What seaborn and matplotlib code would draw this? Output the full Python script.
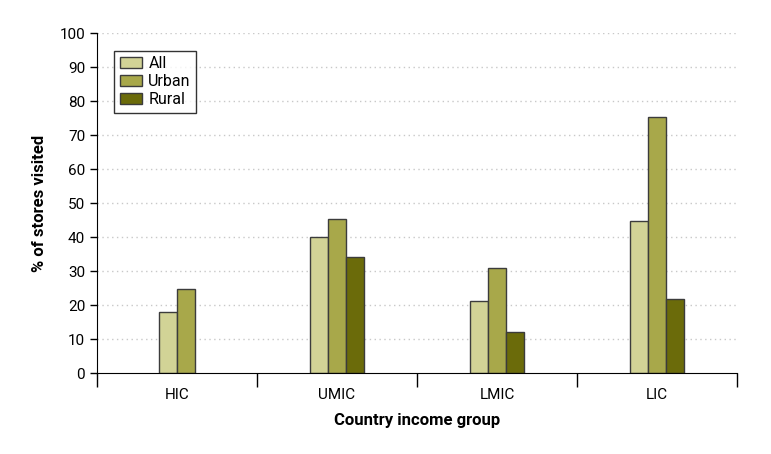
import pandas as pd
import numpy as np
import matplotlib
matplotlib.use("Agg")
import matplotlib.pyplot as plt
import seaborn as sns

# 数据
groups = ['HIC', 'UMIC', 'LMIC', 'LIC']
series = ['All', 'Urban', 'Rural']
all_vals = [18, 40, 21.2, 44.7]
urban_vals = [24.7, 45.3, 30.9, 75.3]
rural_vals = [np.nan, 34.1, 12.1, 21.8]

colors = {'All': '#d2d396', 'Urban': '#a8a84a', 'Rural': '#6b6b0a'}

sns.set_style('white')
plt.rcParams['font.family'] = ['Roboto', 'DejaVu Sans']
plt.rcParams['text.color'] = 'black'
plt.rcParams['axes.labelcolor'] = 'black'
plt.rcParams['xtick.color'] = 'black'
plt.rcParams['ytick.color'] = 'black'

rows = []
for g, a, u, r in zip(groups, all_vals, urban_vals, rural_vals):
    rows.append({'group': g, 'series': 'All', 'value': a})
    rows.append({'group': g, 'series': 'Urban', 'value': u})
    rows.append({'group': g, 'series': 'Rural', 'value': r})
df = pd.DataFrame(rows)

fig = plt.figure(figsize=(7.71, 4.54), dpi=100)
ax = fig.add_axes([0.1258, 0.1784, 0.8302, 0.7489])

bw = 0.3375
full = df[df['group'] != 'HIC']
sns.barplot(data=full, x='group', y='value', hue='series', order=groups,
            hue_order=series, palette=colors, width=bw, saturation=1,
            edgecolor='#3c3c3c', linewidth=1, ax=ax)

# HIC 没有 Rural，两根柱子居中
hic = df[(df['group'] == 'HIC') & (df['series'] != 'Rural')]
sns.barplot(data=hic, x='group', y='value', hue='series', order=groups,
            hue_order=['All', 'Urban'], palette=colors, width=bw * 2 / 3,
            saturation=1, edgecolor='#3c3c3c', linewidth=1, ax=ax, legend=False)

ax.set_xlim(-0.5, 3.5)
ax.set_ylim(0, 100)
ax.set_yticks(range(0, 101, 10))
ax.tick_params(axis='y', length=5, width=1, color='black', labelsize=11, left=True)
ax.set_xticks(range(4))
ax.set_xticklabels(groups)
ax.tick_params(axis='x', which='major', length=0, labelsize=11, pad=11)
ax.set_xticks([-0.5, 0.5, 1.5, 2.5, 3.5], minor=True)
ax.tick_params(axis='x', which='minor', length=10, width=1, color='black', bottom=True)

for y in range(10, 101, 10):
    ax.axhline(y, color='#c8c8c8', linestyle=(0, (1, 2.5)), linewidth=1, zorder=0)

ax.spines['top'].set_visible(False)
ax.spines['right'].set_visible(False)
ax.spines['left'].set_color('black')
ax.spines['bottom'].set_color('black')

ax.set_xlabel('Country income group', fontsize=12, fontweight='bold', labelpad=8)
ax.set_ylabel('% of stores visited', fontsize=12, fontweight='bold', labelpad=9)

leg = ax.legend(loc='upper left', bbox_to_anchor=(0.014, 0.972), fontsize=11.5,
                frameon=True, fancybox=False, edgecolor='black',
                handlelength=1.4, handleheight=0.7, handletextpad=0.4,
                borderpad=0.35, labelspacing=0.2)
leg.get_frame().set_linewidth(1)

fig.savefig('out.png', dpi=100)
